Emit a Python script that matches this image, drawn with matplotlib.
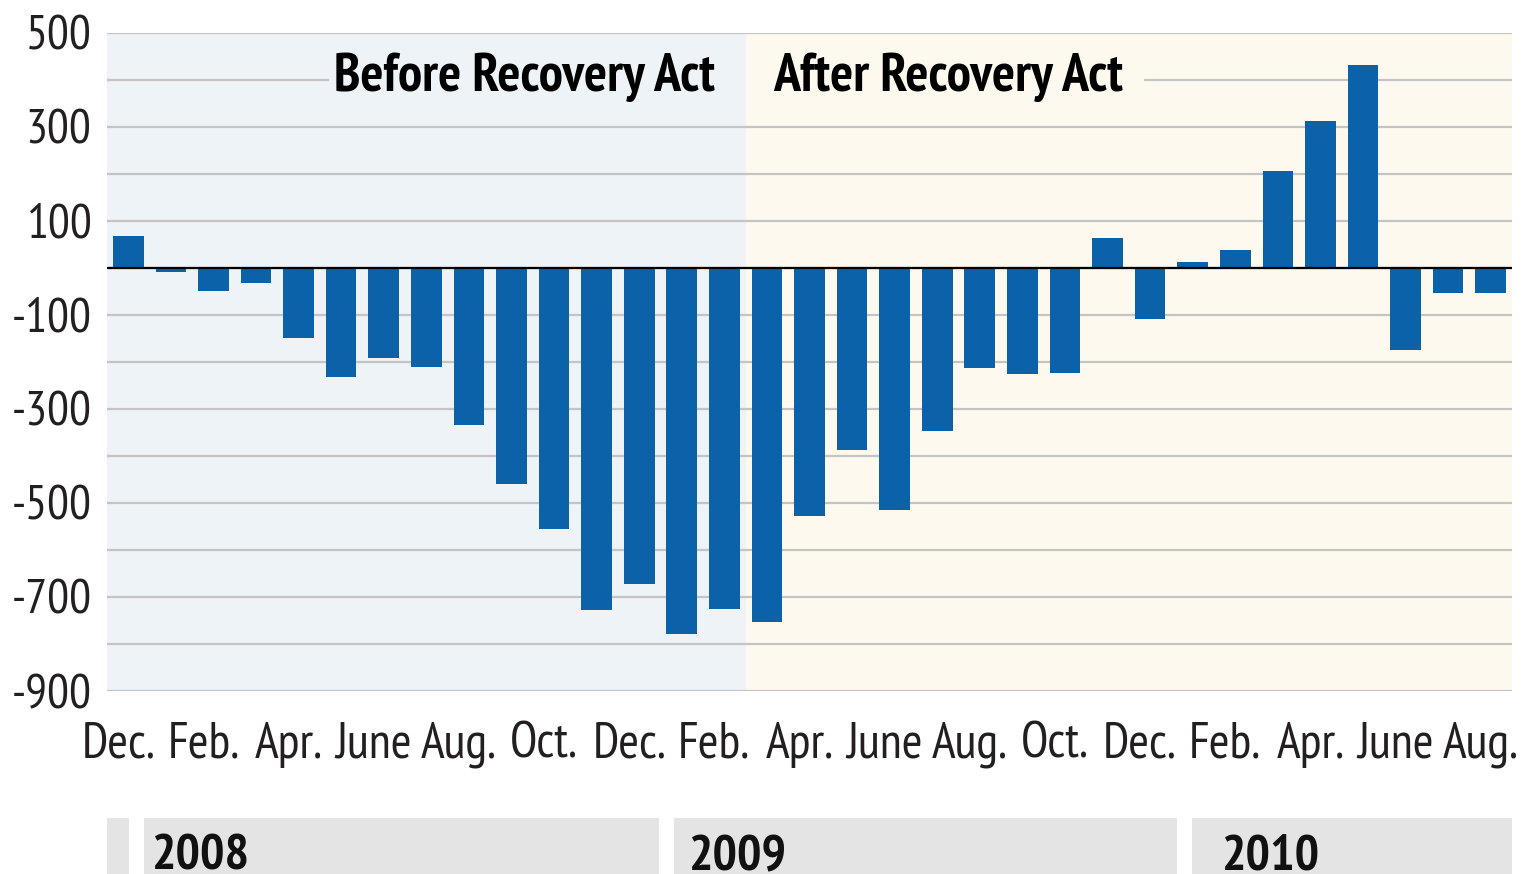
import matplotlib
matplotlib.use("Agg")
import matplotlib.pyplot as plt
from matplotlib.transforms import blended_transform_factory, ScaledTranslation
from matplotlib.patches import Rectangle
import numpy as np

# ---- data ----
months = ["Dec.", "Jan.", "Feb.", "Mar.", "Apr.", "May", "June", "July", "Aug.", "Sep.", "Oct.", "Nov.",
          "Dec.", "Jan.", "Feb.", "Mar.", "Apr.", "May", "June", "July", "Aug.", "Sep.", "Oct.", "Nov.",
          "Dec.", "Jan.", "Feb.", "Mar.", "Apr.", "May", "June", "July", "Aug."]
job_change = [68, -8, -49, -32, -149, -232, -191, -211, -334, -460, -555, -728,
              -672, -779, -726, -753, -528, -387, -515, -347, -213, -226, -223, 64,
              -109, 13, 38, 206, 313, 432, -174, -53, -53]
years = ["2008", "2009", "2010"]
yticks = [500, 300, 100, -100, -300, -500, -700, -900]
period_labels = ["Before Recovery Act", "After Recovery Act"]
recovery_start = 15  # Mar. 2009

# ---- layout (in bar-index units) ----
year_boxes = [(0.38, 12.47), (12.82, 24.64), (24.99, 32.5)]
year_text_x = [0.54, 13.15, 25.67]
label_mask = (4.72, 23.85)

# ---- style ----
FAM = ["PT Sans Narrow", "Liberation Sans", "DejaVu Sans"]
plt.rcParams["font.family"] = FAM
bar_color = "#0b62a9"
before_bg = "#eef3f8"
after_bg = "#fdf9ee"
grid_color = "#c4c4c4"
year_bg = "#e4e4e4"
txt = "#231f20"

fig = plt.figure(figsize=(15.24, 8.74), dpi=100)
ax = fig.add_axes([107 / 1524, 1 - 691 / 874, (1512 - 107) / 1524, (691 - 33) / 874])

x = np.arange(len(job_change))
n = len(x)
ax.set_xlim(-0.5, n - 0.5)
ax.set_ylim(-900, 500)

ax.axvspan(-0.5, recovery_start - 0.5, color=before_bg, zorder=0, lw=0)
ax.axvspan(recovery_start - 0.5, n - 0.5, color=after_bg, zorder=0, lw=0)

for g in range(-900, 501, 100):
    ax.axhline(g, color=grid_color, lw=1.6, zorder=1)
ax.axhline(0, color="black", lw=1.6, zorder=3)

# mask the 400 gridline behind the period labels
ax.add_patch(Rectangle((label_mask[0], 390), recovery_start - 0.5 - label_mask[0], 20,
                       fc=before_bg, ec="none", zorder=1.5))
ax.add_patch(Rectangle((recovery_start - 0.5, 390), label_mask[1] - (recovery_start - 0.5), 20,
                       fc=after_bg, ec="none", zorder=1.5))

ax.bar(x, job_change, width=0.72, color=bar_color, zorder=2)

for s in ax.spines.values():
    s.set_visible(False)

ax.set_yticks(yticks)
ax.set_yticklabels([str(v) for v in yticks], fontsize=35, color=txt)
ax.tick_params(axis="y", length=0, pad=11)

tick_idx = x[::2]
ax.set_xticks(tick_idx)
ax.set_xticklabels([months[i] for i in tick_idx], fontsize=36, color=txt)
ax.tick_params(axis="x", length=0, pad=22)
off = ScaledTranslation(-10 / 100, 0, fig.dpi_scale_trans)
for lab in ax.get_xticklabels():
    lab.set_transform(lab.get_transform() + off)

ax.text(recovery_start - 1.22, 405, period_labels[0], ha="right", va="center",
        fontsize=39, fontweight="bold", color="black", zorder=4)
ax.text(recovery_start + 0.14, 405, period_labels[1], ha="left", va="center",
        fontsize=39, fontweight="bold", color="black", zorder=4)

tr = blended_transform_factory(ax.transData, fig.transFigure)
h = (874 - 818) / 874
ax.add_patch(Rectangle((-0.5, 0), 0.52, h, transform=tr, fc=year_bg, ec="none", clip_on=False))
for yr, (l, r), tx in zip(years, year_boxes, year_text_x):
    ax.add_patch(Rectangle((l, 0), r - l, h, transform=tr, fc=year_bg, ec="none", clip_on=False))
    ax.text(tx, -6 / 874, yr, transform=tr, ha="left", va="bottom",
            fontsize=37, fontweight="bold", color="#111111")

fig.savefig("out.png", dpi=100)
